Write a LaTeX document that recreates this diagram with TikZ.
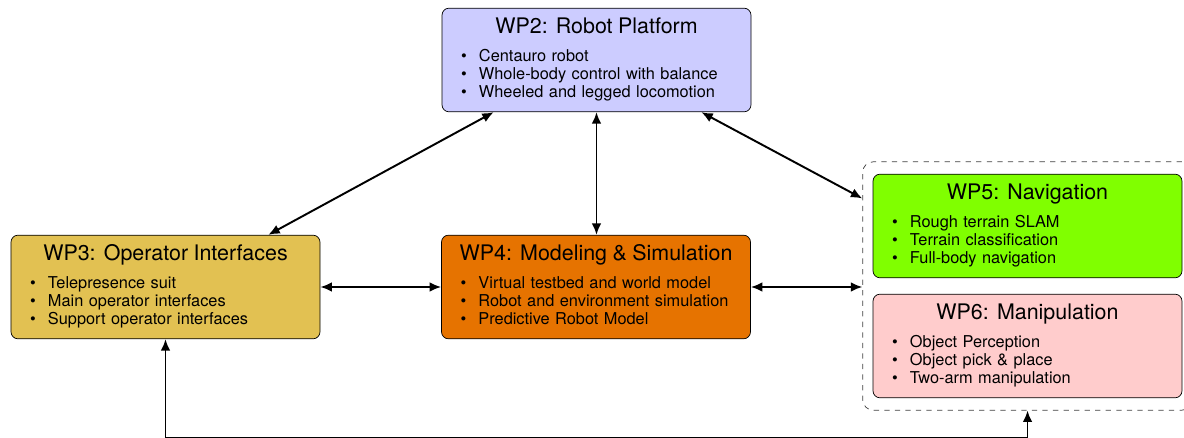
\documentclass[tikz,border=0pt]{standalone}
\usepackage{fontspec}
\setmainfont{TeX Gyre Heros}
\usetikzlibrary{fit,arrows.meta}

\definecolor{wpblue}{RGB}{204,204,255}
\definecolor{wpgold}{RGB}{226,193,82}
\definecolor{wporange}{RGB}{230,115,0}
\definecolor{wpgreen}{RGB}{128,255,0}
\definecolor{wppink}{RGB}{255,204,204}

% box heading and bullet lines
\newcommand{\wphead}[1]{\rule{0pt}{14.7pt}\makebox[\linewidth][c]{\fontsize{12.2}{14}\selectfont #1}\\[5.7pt]}
\newcommand{\wpitem}[1]{\makebox[1.1em][l]{\textbullet}#1}
\newcommand{\wpend}{\rule[-8pt]{0pt}{0pt}}

\begin{document}
\begin{tikzpicture}[>={Latex[length=6.5pt,width=5.5pt]}]
    \tikzstyle{wp} = [rectangle, draw, rounded corners=4pt, text width=5.42cm, inner xsep=0.38cm, inner ysep=0pt, align=left, font=\fontsize{9.3}{10.2}\selectfont]
    \tikzstyle{link} = [line width=1.1pt, <->]
    \useasboundingbox (0,0) rectangle (23.68,-8.76);
    \node [wp, fill=wpblue] (wp2) at (11.93,-1.20) {\wphead{WP2: Robot Platform}\wpitem{Centauro robot}\\ \wpitem{Whole-body control with balance}\\ \wpitem{Wheeled and legged locomotion}\wpend};
    \node [wp, fill=wpgold] (wp3) at (3.31,-5.74) {\wphead{WP3: Operator Interfaces}\wpitem{Telepresence suit}\\ \wpitem{Main operator interfaces}\\ \wpitem{Support operator interfaces}\wpend};
    \node [wp, fill=wporange] (wp4) at (11.92,-5.74) {\wphead{WP4: Modeling \& Simulation}\wpitem{Virtual testbed and world model}\\ \wpitem{Robot and environment simulation}\\ \wpitem{Predictive Robot Model}\wpend};
    \node [wp, fill=wpgreen] (wp5) at (20.55,-4.52) {\wphead{WP5: Navigation}\wpitem{Rough terrain SLAM}\\ \wpitem{Terrain classification}\\ \wpitem{Full-body navigation}\wpend};
    \node [wp, fill=wppink] (wp6) at (20.55,-6.92) {\wphead{WP6: Manipulation}\wpitem{Object Perception}\\ \wpitem{Object pick \& place}\\ \wpitem{Two-arm manipulation}\wpend};
    \node [fit=(wp5)(wp6), draw=black!75, dashed, rounded corners=6pt, inner xsep=0.2cm, inner ysep=0.24cm] (grp) {};
    \draw [link] ([xshift=1.04cm]wp2.south west) -- ([xshift=-1.04cm]wp3.north east);
    \draw [link] (wp2.south) -- (wp2.south |- wp4.north);
    \draw [link] ([xshift=-1cm]wp2.south east) -- ([yshift=-0.74cm]grp.north west);
    \draw [link] (wp3.east) -- (wp4.west); \draw [link] (wp4.east) -- (wp4.east -| grp.west);
    \draw [link] (wp3.south) -- ++(0,-1.98) -| (grp.south);
\end{tikzpicture}
\end{document}
